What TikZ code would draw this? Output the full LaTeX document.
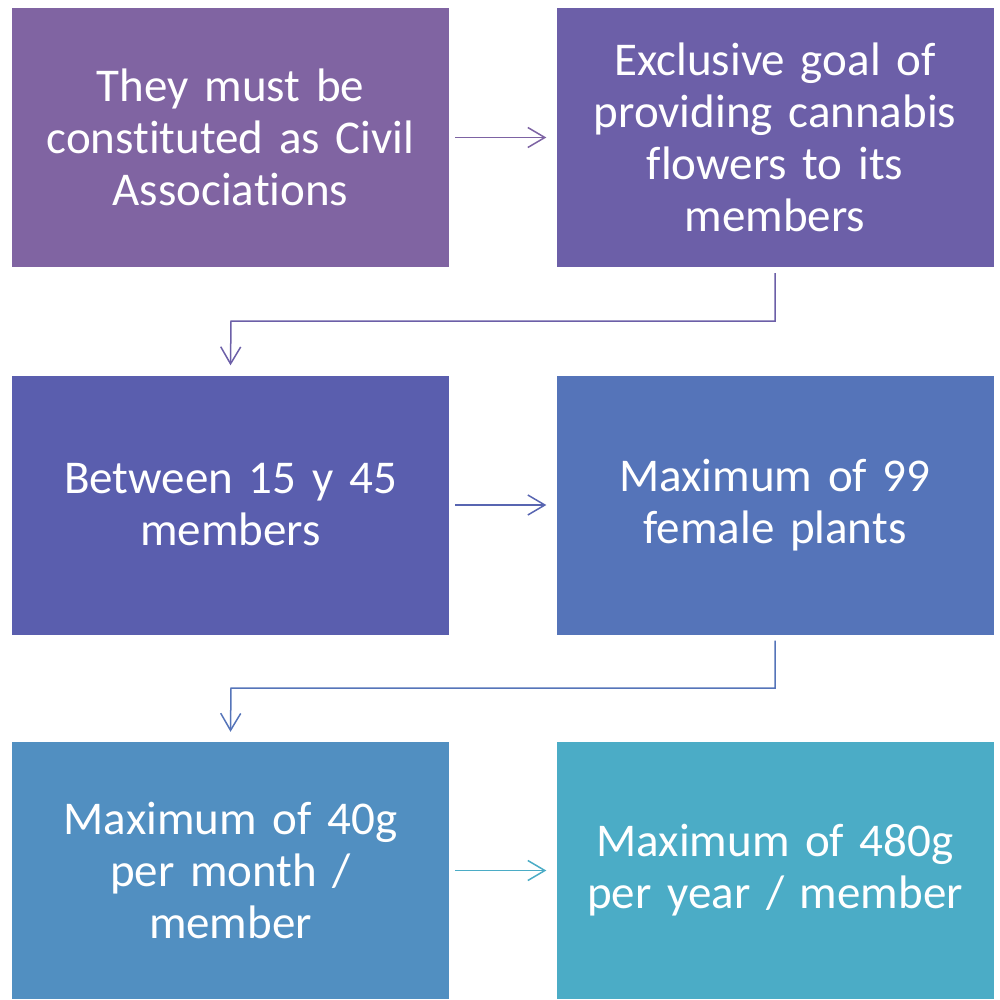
\documentclass[tikz,border=0pt]{standalone}
\usepackage{fontspec}
\setmainfont{Carlito}[RawFeature=-liga,WordSpace=0.8]
\usetikzlibrary{arrows.meta}
\definecolor{cA}{HTML}{8064A2}
\definecolor{cB}{HTML}{6C5FA8}
\definecolor{cC}{HTML}{5A5EAE}
\definecolor{cD}{HTML}{5574B9}
\definecolor{cE}{HTML}{518FC1}
\definecolor{cF}{HTML}{4BACC6}
\begin{document}
\begin{tikzpicture}[x=1pt,y=-1pt,
  box/.style={draw=none,minimum width=437pt,minimum height=259pt,inner sep=0pt,
    text=white,font=\fontsize{47}{52}\selectfont,align=center,text width=420pt},
  conn/.style={line width=1.5pt,-{Straight Barb[length=17pt,width=20pt,line width=1.5pt]}}]
\useasboundingbox (0,0) rectangle (1000,999);
\node[box,fill=cA] (b1) at (230.5,137.5) {\raisebox{2pt}{\parbox{420pt}{\centering They must be\\constituted as Civil\\Associations}}};
\node[box,fill=cB] (b2) at (775,137.5) {Exclusive goal of\\providing cannabis\\flowers to its\\members};
\node[box,fill=cC] (b3) at (230.5,505) {Between 15 y 45\\members};
\node[box,fill=cD] (b4) at (775,505) {Maximum of 99\\female plants};
\node[box,fill=cE,minimum height=257pt] (b5) at (230.5,870.5) {Maximum of 40g\\per month /\\member};
\node[box,fill=cF,minimum height=257pt] (b6) at (775,870.5) {Maximum of 480g\\per year / member};
\coordinate (k1) at (775,321);
\coordinate (k2) at (231,321);
\coordinate (k3) at (775,688);
\coordinate (k4) at (231,688);
\draw[conn,draw=cA!85!cB] ([xshift=6pt]b1.east) -- ([xshift=-10pt]b2.west);
\draw[conn,draw=cB] ([yshift=-6pt]b2.south) -- (k1) -- (k2) -- ([yshift=10pt]b3.north);
\draw[conn,draw=cC!70!cD] ([xshift=6pt]b3.east) -- ([xshift=-10pt]b4.west);
\draw[conn,draw=cD] ([yshift=-6pt]b4.south) -- (k3) -- (k4) -- ([yshift=10pt]b5.north);
\draw[conn,draw=cF] ([xshift=6pt]b5.east) -- ([xshift=-10pt]b6.west);
\end{tikzpicture}
\end{document}
